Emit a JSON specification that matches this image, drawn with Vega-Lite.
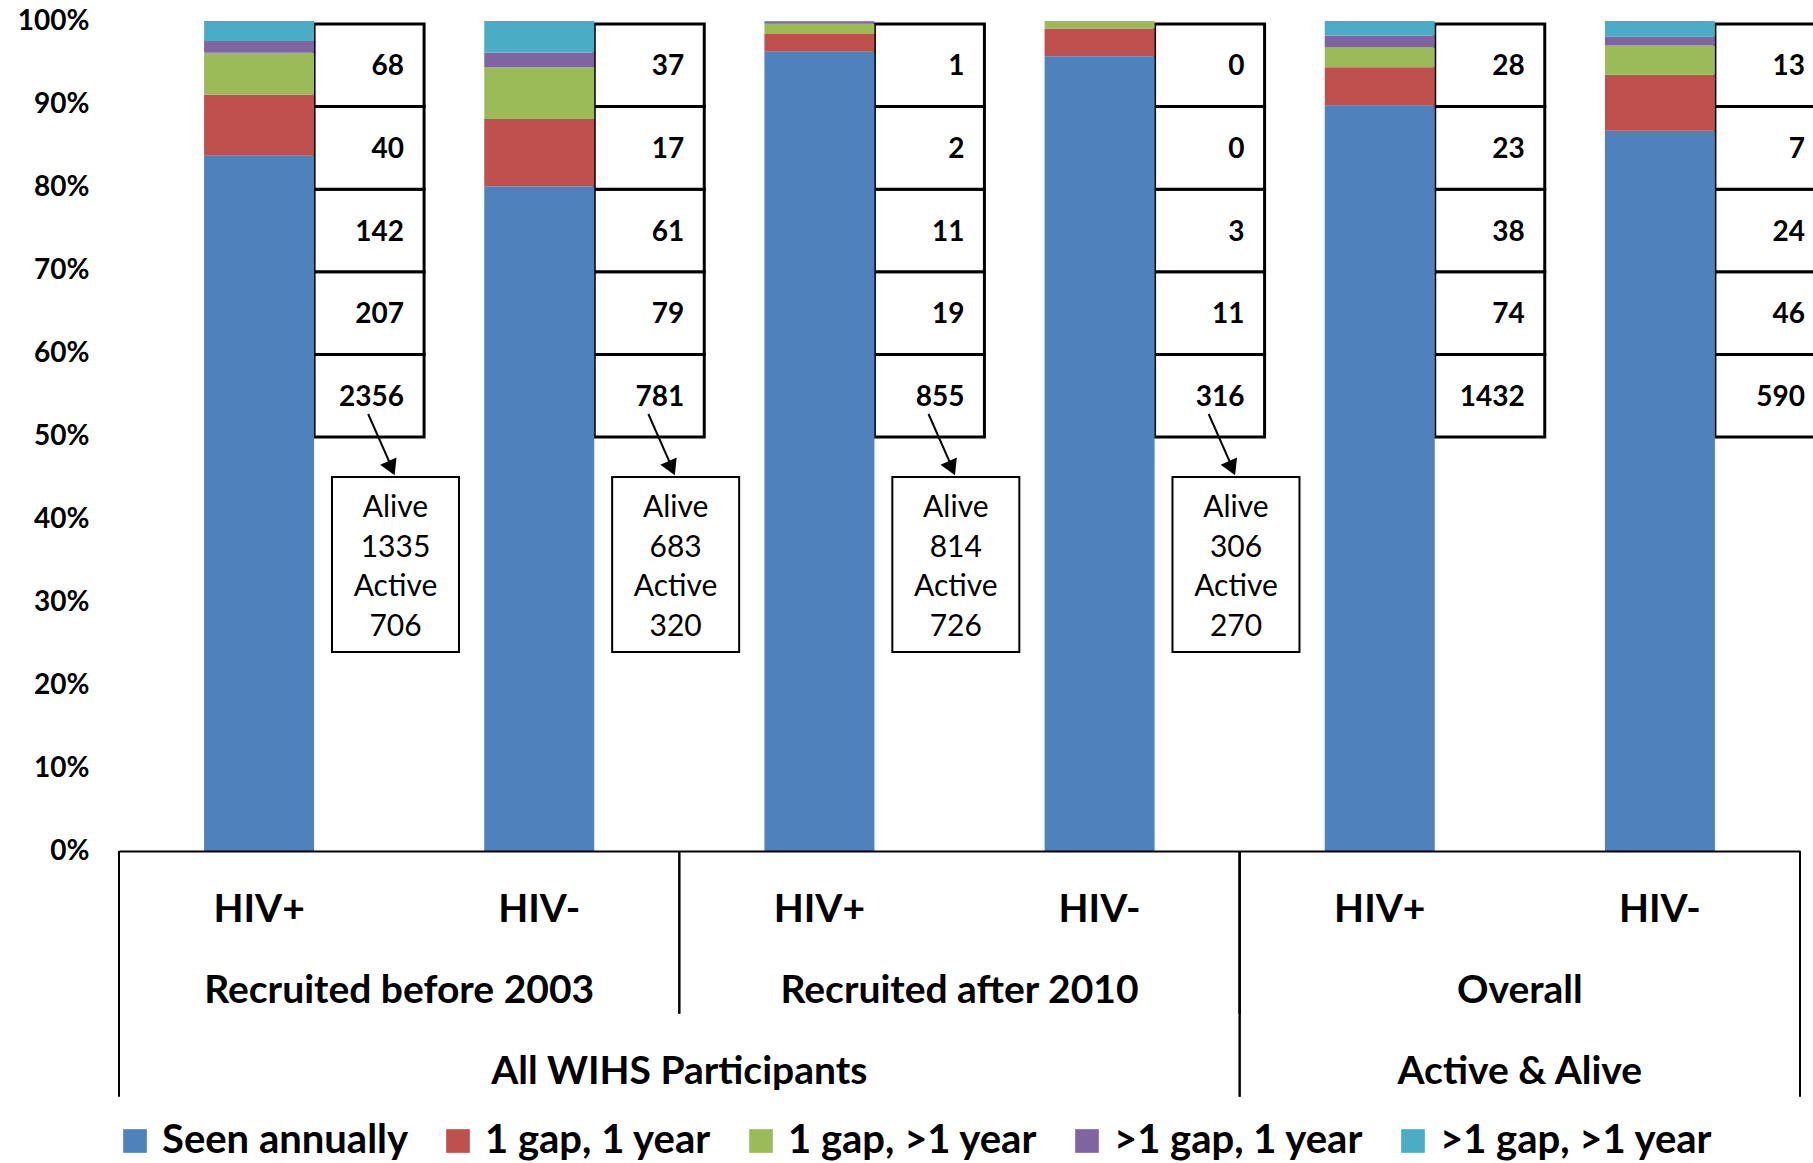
{
  "$schema": "https://vega.github.io/schema/vega-lite/v6.json",
  "width": 1681,
  "height": 830,
  "autosize": {"type": "none"},
  "padding": {"left": 119, "top": 21, "right": 13, "bottom": 312},
  "background": "white",
  "config": {"view": {"stroke": null}, "font": "Lato"},
  "datasets": {
    "counts": [
      {"bar": "b1", "cohort": "HIV+", "status": "Seen annually", "k": 1, "n": 2356},
      {"bar": "b1", "cohort": "HIV+", "status": "1 gap, 1 year", "k": 2, "n": 207},
      {"bar": "b1", "cohort": "HIV+", "status": "1 gap, >1 year", "k": 3, "n": 142},
      {"bar": "b1", "cohort": "HIV+", "status": ">1 gap, 1 year", "k": 4, "n": 40},
      {"bar": "b1", "cohort": "HIV+", "status": ">1 gap, >1 year", "k": 5, "n": 68},
      {"bar": "b2", "cohort": "HIV-", "status": "Seen annually", "k": 1, "n": 781},
      {"bar": "b2", "cohort": "HIV-", "status": "1 gap, 1 year", "k": 2, "n": 79},
      {"bar": "b2", "cohort": "HIV-", "status": "1 gap, >1 year", "k": 3, "n": 61},
      {"bar": "b2", "cohort": "HIV-", "status": ">1 gap, 1 year", "k": 4, "n": 17},
      {"bar": "b2", "cohort": "HIV-", "status": ">1 gap, >1 year", "k": 5, "n": 37},
      {"bar": "b3", "cohort": "HIV+", "status": "Seen annually", "k": 1, "n": 855},
      {"bar": "b3", "cohort": "HIV+", "status": "1 gap, 1 year", "k": 2, "n": 19},
      {"bar": "b3", "cohort": "HIV+", "status": "1 gap, >1 year", "k": 3, "n": 11},
      {"bar": "b3", "cohort": "HIV+", "status": ">1 gap, 1 year", "k": 4, "n": 2},
      {"bar": "b3", "cohort": "HIV+", "status": ">1 gap, >1 year", "k": 5, "n": 1},
      {"bar": "b4", "cohort": "HIV-", "status": "Seen annually", "k": 1, "n": 316},
      {"bar": "b4", "cohort": "HIV-", "status": "1 gap, 1 year", "k": 2, "n": 11},
      {"bar": "b4", "cohort": "HIV-", "status": "1 gap, >1 year", "k": 3, "n": 3},
      {"bar": "b4", "cohort": "HIV-", "status": ">1 gap, 1 year", "k": 4, "n": 0},
      {"bar": "b4", "cohort": "HIV-", "status": ">1 gap, >1 year", "k": 5, "n": 0},
      {"bar": "b5", "cohort": "HIV+", "status": "Seen annually", "k": 1, "n": 1432},
      {"bar": "b5", "cohort": "HIV+", "status": "1 gap, 1 year", "k": 2, "n": 74},
      {"bar": "b5", "cohort": "HIV+", "status": "1 gap, >1 year", "k": 3, "n": 38},
      {"bar": "b5", "cohort": "HIV+", "status": ">1 gap, 1 year", "k": 4, "n": 23},
      {"bar": "b5", "cohort": "HIV+", "status": ">1 gap, >1 year", "k": 5, "n": 28},
      {"bar": "b6", "cohort": "HIV-", "status": "Seen annually", "k": 1, "n": 590},
      {"bar": "b6", "cohort": "HIV-", "status": "1 gap, 1 year", "k": 2, "n": 46},
      {"bar": "b6", "cohort": "HIV-", "status": "1 gap, >1 year", "k": 3, "n": 24},
      {"bar": "b6", "cohort": "HIV-", "status": ">1 gap, 1 year", "k": 4, "n": 7},
      {"bar": "b6", "cohort": "HIV-", "status": ">1 gap, >1 year", "k": 5, "n": 13}
    ],
    "alive": [
      {"bar": "b1", "alive": 1335, "active": 706},
      {"bar": "b2", "alive": 683, "active": 320},
      {"bar": "b3", "alive": 814, "active": 726},
      {"bar": "b4", "alive": 306, "active": 270}
    ],
    "level2": [
      {"label": "Recruited before 2003", "first": "b1", "last": "b2", "mid": "b1"},
      {"label": "Recruited after 2010", "first": "b3", "last": "b4", "mid": "b3"},
      {"label": "Overall", "first": "b5", "last": "b6", "mid": "b5"}
    ],
    "level3": [
      {"label": "All WIHS Participants", "first": "b1", "last": "b4", "mid": "b2"},
      {"label": "Active & Alive", "first": "b5", "last": "b6", "mid": "b5"}
    ]
  },
  "layer": [
    {
      "data": {"name": "counts"},
      "layer": [
        {
          "mark": {"type": "rect", "width": 110, "xOffset": 110, "fill": "white", "stroke": "black", "strokeWidth": 3},
          "encoding": {
            "x": {"field": "bar", "type": "nominal",
                  "scale": {"domain": ["b1", "b2", "b3", "b4", "b5", "b6"], "paddingInner": 0, "paddingOuter": 0},
                  "axis": {"title": null, "labels": false, "ticks": false, "grid": false, "domainColor": "black", "domainWidth": 2, "zindex": 1}},
            "y": {"field": "status", "type": "nominal",
                  "scale": {"type": "band", "domain": [">1 gap, >1 year", ">1 gap, 1 year", "1 gap, >1 year", "1 gap, 1 year", "Seen annually"],
                            "range": [3, 416], "paddingInner": 0, "paddingOuter": 0},
                  "axis": null}
          }
        },
        {
          "mark": {"type": "text", "xOffset": 145, "align": "right", "baseline": "middle", "dy": 2, "fontSize": 28, "fontWeight": "bold", "font": "Lato", "color": "black"},
          "encoding": {
            "x": {"field": "bar", "type": "nominal"},
            "y": {"field": "status", "type": "nominal", "axis": null},
            "text": {"field": "n", "type": "quantitative", "format": "d"}
          }
        }
      ]
    },
    {
      "layer": [
        {
          "data": {"name": "counts"},
          "mark": {"type": "bar", "width": 110},
          "encoding": {
            "x": {"field": "bar", "type": "nominal"},
            "y": {"field": "n", "type": "quantitative", "stack": "normalize",
                  "scale": {"domain": [0, 1]},
                  "axis": {"title": null, "values": [0, 0.1, 0.2, 0.3, 0.4, 0.5, 0.6, 0.7, 0.8, 0.9, 1], "format": ".0%",
                           "domain": false, "ticks": false, "labelPadding": 30, "labelFont": "Lato", "labelFontWeight": "bold",
                           "labelFontSize": 28, "labelColor": "black", "gridColor": "#D9D9D9", "gridWidth": 2}},
            "color": {"field": "status", "type": "nominal",
                      "scale": {"domain": ["Seen annually", "1 gap, 1 year", "1 gap, >1 year", ">1 gap, 1 year", ">1 gap, >1 year"],
                                "range": ["#4F81BD", "#C0504D", "#9BBB59", "#8064A2", "#4BACC6"]},
                      "legend": {"orient": "none", "legendX": -4, "legendY": 1100, "direction": "horizontal", "columns": 5,
                                 "title": null, "symbolType": "square", "symbolSize": 560, "symbolStrokeWidth": 0,
                                 "labelFont": "Lato", "labelFontSize": 40, "labelFontWeight": "bold", "labelColor": "black",
                                 "labelOffset": 7, "columnPadding": 29, "labelLimit": 600, "symbolOpacity": 1}},
            "order": {"field": "k", "type": "quantitative"}
          }
        },
        {
          "data": {"name": "alive"},
          "mark": {"type": "rect", "width": 127, "xOffset": 136.4, "fillOpacity": 0, "stroke": "black", "strokeWidth": 2},
          "encoding": {
            "x": {"field": "bar", "type": "nominal"},
            "y": {"datum": 0.4506, "type": "quantitative"},
            "y2": {"datum": 0.2398}
          }
        },
        {
          "data": {"name": "alive"},
          "transform": [{"calculate": "['Alive', '' + datum.alive, 'Active', '' + datum.active]", "as": "lines"}],
          "mark": {"type": "text", "xOffset": 136.4, "align": "center", "baseline": "alphabetic", "lineHeight": 39.5,
                   "fontSize": 30, "font": "Lato", "color": "black"},
          "encoding": {
            "x": {"field": "bar", "type": "nominal"},
            "y": {"datum": 0.4024, "type": "quantitative"},
            "text": {"field": "lines"}
          }
        },
        {
          "data": {"name": "alive"},
          "mark": {"type": "rule", "xOffset": 109.1, "x2Offset": 132.0, "strokeWidth": 2, "color": "black"},
          "encoding": {
            "x": {"field": "bar", "type": "nominal"},
            "x2": {"field": "bar"},
            "y": {"datum": 0.5265, "type": "quantitative"},
            "y2": {"datum": 0.4640}
          }
        },
        {
          "data": {"name": "alive"},
          "mark": {"type": "point", "shape": "triangle-down", "angle": -24, "size": 320, "filled": true, "color": "black",
                   "opacity": 1, "xOffset": 132.4},
          "encoding": {
            "x": {"field": "bar", "type": "nominal"},
            "y": {"datum": 0.4612, "type": "quantitative"}
          }
        },
        {
          "data": {"name": "counts"},
          "transform": [{"filter": "datum.k == 1"}],
          "mark": {"type": "text", "align": "center", "baseline": "alphabetic", "fontSize": 39, "fontWeight": "bold", "font": "Lato", "color": "black"},
          "encoding": {
            "x": {"field": "bar", "type": "nominal"},
            "y": {"datum": -0.0855, "type": "quantitative"},
            "text": {"field": "cohort"}
          }
        },
        {
          "data": {"name": "level2"},
          "mark": {"type": "text", "align": "center", "baseline": "alphabetic", "fontSize": 39, "fontWeight": "bold", "font": "Lato", "color": "black"},
          "encoding": {
            "x": {"field": "mid", "type": "nominal", "bandPosition": 1},
            "y": {"datum": -0.1831, "type": "quantitative"},
            "text": {"field": "label"}
          }
        },
        {
          "data": {"name": "level3"},
          "mark": {"type": "text", "align": "center", "baseline": "alphabetic", "fontSize": 39, "fontWeight": "bold", "font": "Lato", "color": "black"},
          "encoding": {
            "x": {"field": "mid", "type": "nominal", "bandPosition": 1},
            "y": {"datum": -0.2807, "type": "quantitative"},
            "text": {"field": "label"}
          }
        },
        {
          "data": {"name": "level2"},
          "mark": {"type": "rule", "strokeWidth": 2, "color": "black"},
          "encoding": {
            "x": {"field": "first", "type": "nominal", "bandPosition": 0},
            "y": {"datum": 0, "type": "quantitative"},
            "y2": {"datum": -0.196}
          }
        },
        {
          "data": {"name": "level2"},
          "mark": {"type": "rule", "strokeWidth": 2, "color": "black"},
          "encoding": {
            "x": {"field": "last", "type": "nominal", "bandPosition": 1},
            "y": {"datum": 0, "type": "quantitative"},
            "y2": {"datum": -0.196}
          }
        },
        {
          "data": {"name": "level3"},
          "mark": {"type": "rule", "strokeWidth": 2, "color": "black"},
          "encoding": {
            "x": {"field": "first", "type": "nominal", "bandPosition": 0},
            "y": {"datum": 0, "type": "quantitative"},
            "y2": {"datum": -0.296}
          }
        },
        {
          "data": {"name": "level3"},
          "mark": {"type": "rule", "strokeWidth": 2, "color": "black"},
          "encoding": {
            "x": {"field": "last", "type": "nominal", "bandPosition": 1},
            "y": {"datum": 0, "type": "quantitative"},
            "y2": {"datum": -0.296}
          }
        }
      ]
    }
  ],
  "resolve": {"scale": {"y": "independent"}}
}
